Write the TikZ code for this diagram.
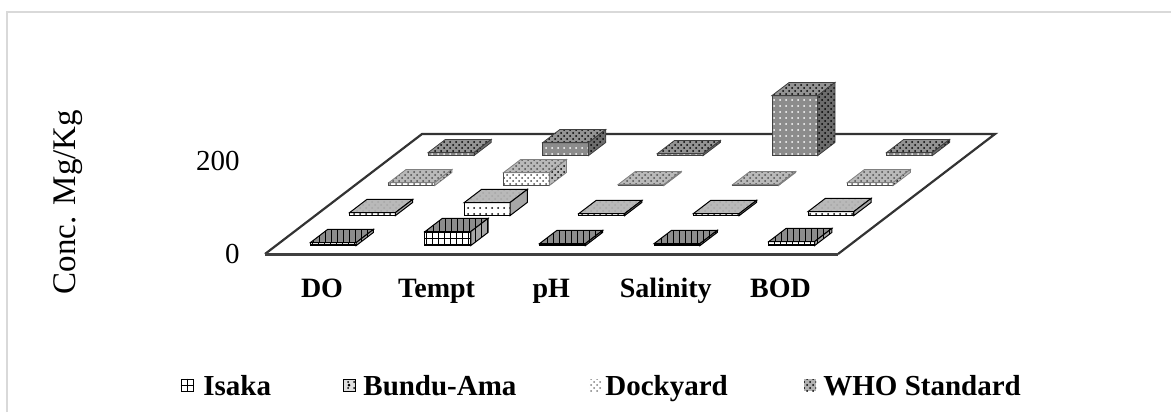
\documentclass[tikz,border=0pt]{standalone}
\usepackage{fontspec}
\setmainfont{Liberation Serif}
\usetikzlibrary{patterns,positioning}

\tikzset{
  floor/.style={draw=black!80, line width=1.1pt},
  isakaFront/.style={draw=black, line width=0.5pt, preaction={fill=white}, pattern=grid},
  isakaTop/.style={draw=black, line width=0.5pt, preaction={fill=gray!90}, pattern=vertical lines},
  isakaSide/.style={draw=black, line width=0.5pt, preaction={fill=gray!70}, pattern=vertical lines},
  bunduFront/.style={draw=black, line width=0.5pt, preaction={fill=white}, pattern=dots},
  bunduTop/.style={draw=black, line width=0.5pt, preaction={fill=gray!55}, pattern=crosshatch dots, pattern color=gray!70},
  bunduSide/.style={draw=black, line width=0.5pt, fill=gray!70},
  dockFront/.style={draw=gray!60!black, line width=0.4pt, preaction={fill=white}, pattern=crosshatch dots, pattern color=gray!60!black},
  dockTop/.style={draw=gray, line width=0.4pt, preaction={fill=gray!55}, pattern=crosshatch dots, pattern color=gray!60!black},
  dockSide/.style={draw=gray, line width=0.4pt, preaction={fill=gray!55}, pattern=crosshatch dots},
  whoFront/.style={draw=gray!50!black, line width=0.4pt, preaction={fill=gray!90}, pattern=dots, pattern color=white},
  whoTop/.style={draw=gray!50!black, line width=0.4pt, preaction={fill=gray!85}, pattern=crosshatch dots},
  whoSide/.style={draw=gray!50!black, line width=0.4pt, preaction={fill=gray!85!black}, pattern=crosshatch dots},
  catlabel/.style={font=\fontsize{14}{16}\selectfont\bfseries, anchor=base, inner sep=0pt},
  ticklabel/.style={font=\fontsize{14.5}{16}\selectfont, anchor=east, inner sep=0pt},
  keybox/.style={minimum size=6pt, inner sep=0pt, line width=0.4pt},
  legtext/.style={font=\fontsize{14.5}{16}\selectfont\bfseries, inner sep=0pt, anchor=base west}
}

% one bar: column, row, height, front, top, side
\newcommand\drawbox[6]{%
  \pgfmathsetmacro\bx{265+114.6*(#1+0.3)+39.25*(#2+0.28)}%
  \pgfmathsetmacro\by{254-30*(#2+0.28)}%
  \draw[#4] (\bx,\by) rectangle ++(45.8,-#3);
  \draw[#5] (\bx,\by-#3) -- ++(45.8,0) -- ++(17.3,-13.2) -- ++(-45.8,0) -- cycle;
  \draw[#6] (\bx+45.8,\by) -- ++(17.3,-13.2) -- ++(0,-#3) -- ++(-17.3,13.2) -- cycle;
}

\begin{document}
\begin{tikzpicture}[x=0.5pt, y=-0.5pt]
  \useasboundingbox (0,0) rectangle (1171,412);

  \draw[gray!30, line width=0.8pt] (7,412) -- (7,12) -- (1171,12);

  % floor
  \coordinate (FL) at (265,254);
  \coordinate (FR) at (838,254);
  \coordinate (BR) at (995,134);
  \coordinate (BL) at (422,134);
  \draw[floor] (FL) -- (BL) -- (BR) -- (FR);
  \draw[black!75, line width=1.5pt] (FL) -- (FR);

  % bars, back row first
  \foreach \h [count=\c from 0] in {3,13,2,60,3}
    \drawbox{\c}{3}{\h}{whoFront}{whoTop}{whoSide};
  \foreach \h [count=\c from 0] in {3,13,1,1,3}
    \drawbox{\c}{2}{\h}{dockFront}{dockTop}{dockSide};
  \foreach \h [count=\c from 0] in {3,13,2,2,4}
    \drawbox{\c}{1}{\h}{bunduFront}{bunduTop}{bunduSide};
  \foreach \h [count=\c from 0] in {3,14,2,2,4}
    \drawbox{\c}{0}{\h}{isakaFront}{isakaTop}{isakaSide};

  % axis
  \node[ticklabel] (t0) at (240,254) {0};
  \node[ticklabel] (t200) at (240,161) {200};
  \node[rotate=90, font=\fontsize{16.5}{18}\selectfont] (ytitle) at (68,202) {Conc. Mg/Kg};

  \foreach \lab [count=\i from 0] in {DO,Tempt,pH,Salinity,BOD}
    \node[catlabel] (cat\i) at (322+114.6*\i,297) {\lab};

  % legend
  \node[keybox, draw, fill=white] (keyIsaka) at (187,385) {};
  \draw[line width=0.4pt] (keyIsaka.north) -- (keyIsaka.south) (keyIsaka.west) -- (keyIsaka.east);
  \node[legtext] (legIsaka) at (203,395) {Isaka};
  \node[keybox, draw, preaction={fill=gray!25}, pattern=dots] (keyBundu) at (349,385) {};
  \fill (keyBundu.center) circle (1.5);
  \node[legtext] (legBundu) at (363,395) {Bundu-Ama};
  \node[keybox, pattern=crosshatch dots, pattern color=gray] (keyDock) at (595,385) {};
  \node[legtext] (legDock) at (605,395) {Dockyard};
  \node[keybox, preaction={fill=gray!60}, pattern=crosshatch dots] (keyWho) at (810,385) {};
  \node[legtext] (legWho) at (823,395) {WHO Standard};

\end{tikzpicture}
\end{document}
